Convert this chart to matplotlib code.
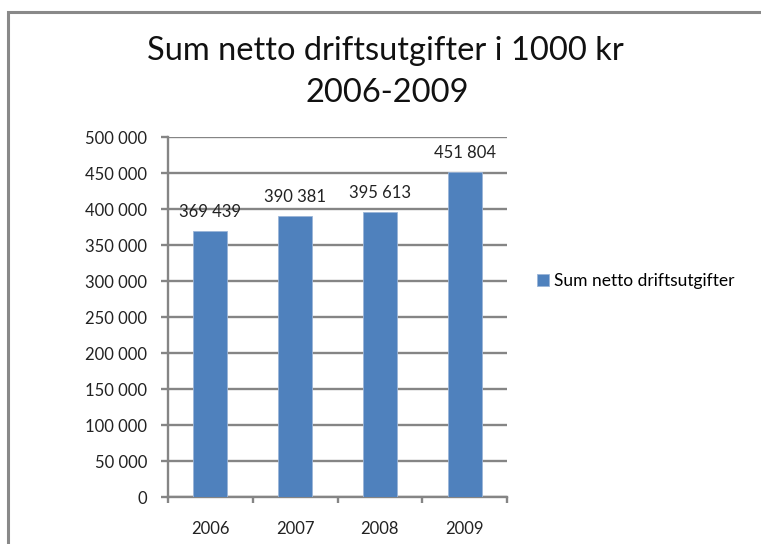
import matplotlib
matplotlib.use('Agg')
import matplotlib.pyplot as plt
from matplotlib.patches import Rectangle
from matplotlib.ticker import FuncFormatter, FixedLocator

years = ["2006", "2007", "2008", "2009"]
values = [369439, 390381, 395613, 451804]
series_name = "Sum netto driftsutgifter"
title_line1 = "Sum netto driftsutgifter i 1000 kr"
title_line2 = "2006-2009"

BAR_COLOR = "#4F81BD"
GRID_COLOR = "#858585"

plt.rcParams['font.family'] = ['Lato', 'DejaVu Sans']

W, H = 761, 544
fig = plt.figure(figsize=(W / 100, H / 100), dpi=100)

# outer chart frame (runs off the right/bottom edge like the source)
fig.add_artist(Rectangle((7.5 / W, -0.05), 1.1, (H - 11.5) / H + 0.05,
                         transform=fig.transFigure, fill=False,
                         edgecolor="#898989", linewidth=2.2))

fig.text(385 / W, 1 - 60 / H, title_line1, ha="center", va="baseline", fontsize=23.5, color="#111111")
fig.text(387 / W, 1 - 102 / H, title_line2, ha="center", va="baseline", fontsize=23.5, color="#111111")

ax = fig.add_axes([168 / W, 47 / H, 339 / W, 360 / H])
x = range(len(years))
bars = ax.bar(x, values, width=0.4, color=BAR_COLOR, edgecolor="#9bb5d8", linewidth=0.6,
              label=series_name, zorder=3)
ax.bar_label(bars, labels=[f"{v:,}".replace(",", " ") for v in values],
             padding=8, fontsize=12, color="#222222")

ax.set_xlim(-0.5, len(years) - 0.5)
ax.set_ylim(0, 500000)
ax.set_yticks(range(0, 500001, 50000))
ax.yaxis.set_major_formatter(FuncFormatter(lambda v, p: f"{int(v):,}".replace(",", " ")))
ax.set_xticks(list(x))
ax.set_xticklabels(years)
ax.xaxis.set_minor_locator(FixedLocator([i - 0.5 for i in range(len(years) + 1)]))
ax.tick_params(axis="x", which="major", length=0, pad=17, labelsize=12, labelcolor="#222222")
ax.tick_params(axis="x", which="minor", length=4, width=1.7, color=GRID_COLOR, direction="out")
ax.tick_params(axis="y", length=5, width=1.7, color=GRID_COLOR, pad=10, labelsize=12, labelcolor="#222222")

ax.grid(axis="y", color=GRID_COLOR, linewidth=1.7, zorder=0)
ax.set_axisbelow(True)
for side in ["top", "right"]:
    ax.spines[side].set_visible(False)
for side in ["left", "bottom"]:
    ax.spines[side].set_color(GRID_COLOR)
    ax.spines[side].set_linewidth(1.7)

fig.legend(loc="center left", bbox_to_anchor=(537 / W, 1 - 281 / H), frameon=False,
           borderpad=0, borderaxespad=0, handlelength=0.7, handleheight=0.7,
           handletextpad=0.3, fontsize=12.5)

fig.savefig("out.png", dpi=100)
